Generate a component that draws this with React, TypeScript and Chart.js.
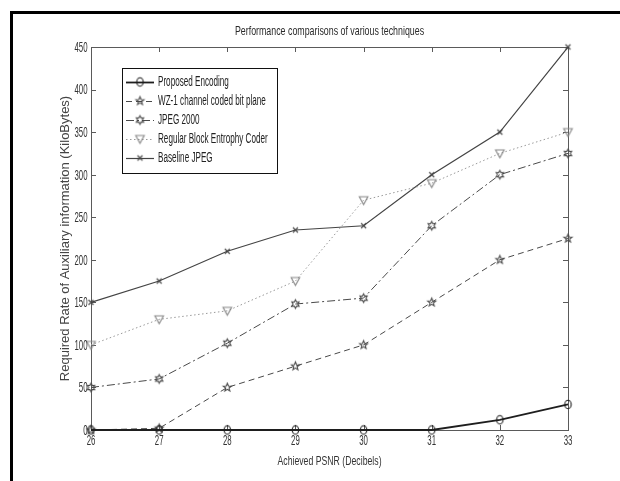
import React, { useEffect, useRef } from "react";
import { Chart, registerables } from "chart.js";

Chart.register(...registerables);

const categories = ["26", "27", "28", "29", "30", "31", "32", "33"];
const proposedEncoding = [0, 0, 0, 0, 0, 0, 12, 30];
const wz1ChannelCoded = [0, 2, 50, 75, 100, 150, 200, 225];
const jpeg2000 = [50, 60, 102, 148, 155, 240, 300, 325];
const regularBlockEntropy = [100, 130, 140, 175, 270, 290, 325, 350];
const baselineJpeg = [150, 175, 210, 235, 240, 300, 350, 450];
const seriesNames = [
  "Proposed Encoding",
  "WZ-1 channel coded bit plane",
  "JPEG 2000",
  "Regular Block Entrophy Coder",
  "Baseline JPEG",
];
const chartTitle = "Performance comparisons of various techniques";
const xTitle = "Achieved PSNR (Decibels)";
const yTitle = "Required Rate of Auxiliary information (KiloBytes)";

function makeMarker(kind: string, color: string): HTMLCanvasElement {
  const c = document.createElement("canvas");
  c.width = 13;
  c.height = 13;
  const ctx = c.getContext("2d")!;
  ctx.strokeStyle = color;
  ctx.lineWidth = 1.1;
  const cx = 6.5, cy = 6.5;
  ctx.beginPath();
  if (kind === "circle") {
    ctx.ellipse(cx, cy, 3.2, 4.2, 0, 0, Math.PI * 2);
  } else if (kind === "pentagram") {
    for (let i = 0; i < 10; i++) {
      const r = i % 2 === 0 ? 4.2 : 1.8;
      const a = -Math.PI / 2 + (i * Math.PI) / 5;
      const x = cx + r * Math.cos(a), y = cy + r * Math.sin(a);
      i === 0 ? ctx.moveTo(x, y) : ctx.lineTo(x, y);
    }
    ctx.closePath();
  } else if (kind === "hexagram") {
    for (let i = 0; i < 12; i++) {
      const r = i % 2 === 0 ? 4.2 : 2.3;
      const a = -Math.PI / 2 + (i * Math.PI) / 6;
      const x = cx + r * Math.cos(a), y = cy + r * Math.sin(a);
      i === 0 ? ctx.moveTo(x, y) : ctx.lineTo(x, y);
    }
    ctx.closePath();
  } else if (kind === "triangleDown") {
    ctx.moveTo(cx - 4.3, cy - 3.5);
    ctx.lineTo(cx + 4.3, cy - 3.5);
    ctx.lineTo(cx, cy + 4.3);
    ctx.closePath();
  } else if (kind === "x") {
    ctx.moveTo(cx - 2.5, cy - 2.5);
    ctx.lineTo(cx + 2.5, cy + 2.5);
    ctx.moveTo(cx + 2.5, cy - 2.5);
    ctx.lineTo(cx - 2.5, cy + 2.5);
  }
  ctx.stroke();
  return c;
}

function condText(
  ctx: CanvasRenderingContext2D,
  text: string,
  x: number,
  y: number,
  size: number,
  sx: number,
  align: CanvasTextAlign,
  color: string
) {
  ctx.save();
  ctx.translate(x, y);
  ctx.scale(sx, 1);
  ctx.font = `${size}px 'Liberation Sans', Arial, sans-serif`;
  ctx.fillStyle = color;
  ctx.textAlign = align;
  ctx.textBaseline = "middle";
  ctx.fillText(text, 0, 0);
  ctx.restore();
}

const paperPlugin = {
  id: "paper",
  beforeDraw(chart: any) {
    const ctx = chart.ctx;
    ctx.save();
    ctx.fillStyle = "#fff";
    ctx.fillRect(0, 0, chart.width, chart.height);
    ctx.restore();
  },
  beforeDatasetsDraw(chart: any) {
    const ctx: CanvasRenderingContext2D = chart.ctx;
    const a = chart.chartArea;
    const xs = chart.scales.x;
    const ys = chart.scales.y;
    ctx.save();
    ctx.strokeStyle = "#5a5a5a";
    ctx.lineWidth = 1;
    ctx.strokeRect(Math.round(a.left) + 0.5, Math.round(a.top) + 0.5, Math.round(a.right - a.left), Math.round(a.bottom - a.top));
    const tl = 5;
    ctx.beginPath();
    xs.ticks.forEach((_t: any, i: number) => {
      const px = Math.round(xs.getPixelForTick(i)) + 0.5;
      ctx.moveTo(px, a.bottom);
      ctx.lineTo(px, a.bottom - tl);
      ctx.moveTo(px, a.top);
      ctx.lineTo(px, a.top + tl);
    });
    ys.ticks.forEach((t: any) => {
      const py = Math.round(ys.getPixelForValue(t.value)) + 0.5;
      ctx.moveTo(a.left, py);
      ctx.lineTo(a.left + tl, py);
      ctx.moveTo(a.right, py);
      ctx.lineTo(a.right - tl, py);
    });
    ctx.stroke();
    ctx.restore();
  },
  afterDraw(chart: any) {
    const ctx: CanvasRenderingContext2D = chart.ctx;
    const a = chart.chartArea;
    const xs = chart.scales.x;
    const ys = chart.scales.y;
    const cxm = (a.left + a.right) / 2;
    const cym = (a.top + a.bottom) / 2;
    // tick labels
    xs.ticks.forEach((t: any, i: number) => {
      const px = xs.getPixelForTick(i);
      condText(ctx, String(t.label), px, a.bottom + 11, 14, 0.56, "center", "#333");
    });
    ys.ticks.forEach((t: any) => {
      const py = ys.getPixelForValue(t.value);
      condText(ctx, String(t.label), a.left - 3.5, py + 1, 14, 0.56, "right", "#333");
    });
    // titles
    condText(ctx, chartTitle, cxm, a.top - 16, 13, 0.68, "center", "#2a2a2a");
    condText(ctx, xTitle, cxm, a.bottom + 31, 13, 0.67, "center", "#333");
    ctx.save();
    ctx.translate(a.left - 26, cym);
    ctx.rotate(-Math.PI / 2);
    ctx.font = "13px 'Liberation Sans', Arial, sans-serif";
    ctx.fillStyle = "#444";
    ctx.textAlign = "center";
    ctx.textBaseline = "middle";
    ctx.fillText(yTitle, 0, 0);
    ctx.restore();
    // legend
    const lx = 122, ly = 68, lw = 155, lh = 105;
    ctx.save();
    ctx.fillStyle = "#fff";
    ctx.fillRect(lx, ly, lw, lh);
    ctx.strokeStyle = "#111";
    ctx.lineWidth = 1;
    ctx.strokeRect(lx + 0.5, ly + 0.5, lw, lh);
    chart.data.datasets.forEach((ds: any, i: number) => {
      const y = ly + 14 + i * 19;
      ctx.save();
      ctx.strokeStyle = ds.borderColor;
      ctx.lineWidth = ds.borderWidth;
      ctx.setLineDash(ds.borderDash || []);
      ctx.beginPath();
      ctx.moveTo(lx + 4, y + 0.5);
      ctx.lineTo(lx + 32, y + 0.5);
      ctx.stroke();
      ctx.restore();
      const img = ds.pointStyle as HTMLCanvasElement;
      ctx.drawImage(img, lx + 18 - img.width / 2, y - img.height / 2);
      condText(ctx, ds.label, lx + 36, y, 14, 0.58, "left", "#222");
    });
    ctx.restore();
    // page frame
    ctx.save();
    ctx.fillStyle = "#000";
    ctx.fillRect(10, 11, chart.width - 10, 3);
    ctx.fillRect(10, 11, 3, chart.height - 11);
    ctx.restore();
  },
};

export default function App() {
  const ref = useRef<HTMLCanvasElement>(null);
  useEffect(() => {
    const styles = [
      { data: proposedEncoding, color: "#1e1e1e", width: 1.8, dash: [], marker: "circle" },
      { data: wz1ChannelCoded, color: "#4a4a4a", width: 1, dash: [6, 4], marker: "pentagram" },
      { data: jpeg2000, color: "#4a4a4a", width: 1, dash: [8, 3, 2, 3], marker: "hexagram" },
      { data: regularBlockEntropy, color: "#9a9a9a", width: 1, dash: [1.5, 2.5], marker: "triangleDown" },
      { data: baselineJpeg, color: "#444", width: 1.2, dash: [], marker: "x" },
    ];
    const chart = new Chart(ref.current!, {
      type: "line",
      data: {
        labels: categories,
        datasets: styles.map((s, i) => ({
          label: seriesNames[i],
          data: s.data,
          borderColor: s.color,
          borderWidth: s.width,
          borderDash: s.dash,
          pointStyle: makeMarker(s.marker, s.color === "#9a9a9a" ? "#888" : s.color),
          pointRadius: 4,
          fill: false,
          tension: 0,
          clip: false,
        })),
      } as any,
      options: {
        responsive: false,
        maintainAspectRatio: false,
        devicePixelRatio: 1,
        animation: false,
        events: [],
        layout: { autoPadding: false, padding: { top: 47, right: 52, left: 0, bottom: 0 } },
        plugins: {
          legend: { display: false },
          title: { display: false },
          tooltip: { enabled: false },
        },
        scales: {
          x: {
            type: "category",
            offset: false,
            ticks: { display: false },
            grid: { display: false },
            border: { display: false },
            afterFit: (s: any) => { s.height = 51; },
          },
          y: {
            type: "linear",
            min: 0,
            max: 450,
            ticks: { display: false, stepSize: 50 },
            grid: { display: false },
            border: { display: false },
            afterFit: (s: any) => { s.width = 91; },
          },
        },
      } as any,
      plugins: [paperPlugin],
    });
    return () => chart.destroy();
  }, []);
  return (
    <div style={{ position: "fixed", left: 0, top: 0, width: 620, height: 481, background: "#fff" }}>
      <canvas ref={ref} width={620} height={481} style={{ display: "block", width: 620, height: 481 }} />
    </div>
  );
}
